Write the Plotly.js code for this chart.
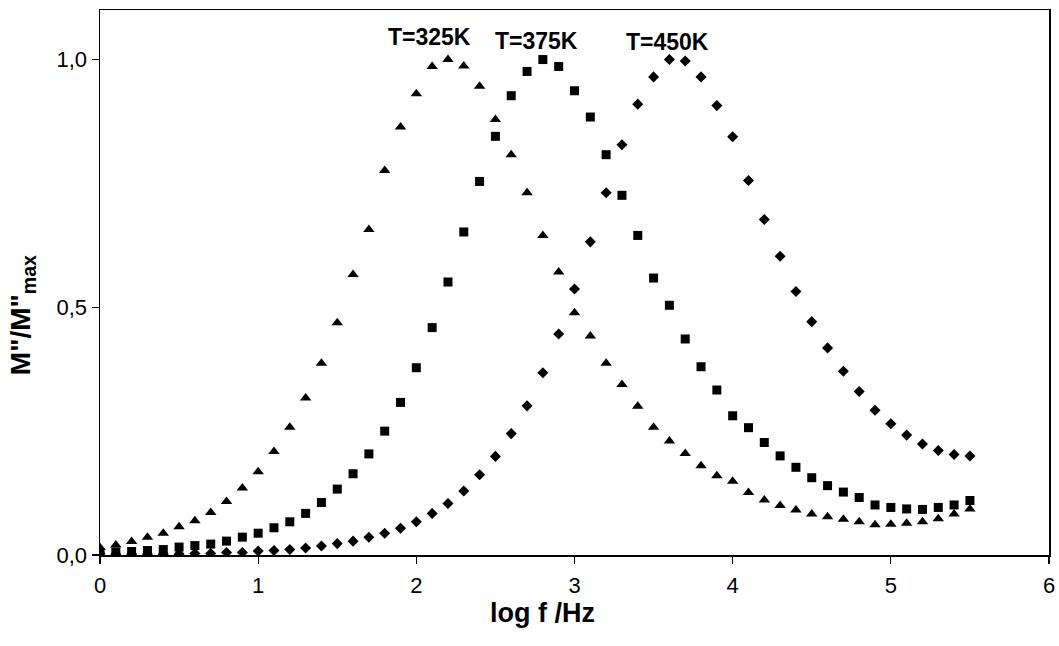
<!DOCTYPE html>
<html>
<head>
<meta charset="utf-8">
<script src="https://cdn.plot.ly/plotly-3.0.1.min.js"></script>
<style>html,body{margin:0;padding:0;background:#fff;}#chart{width:1059px;height:646px;}</style>
</head>
<body>
<div id="chart"></div>
<script>
const logF = [0.0,0.1,0.2,0.3,0.4,0.5,0.6,0.7,0.8,0.9,1.0,1.1,1.2,1.3,1.4,1.5,1.6,1.7,1.8,1.9,
  2.0,2.1,2.2,2.3,2.4,2.5,2.6,2.7,2.8,2.9,3.0,3.1,3.2,3.3,3.4,3.5,3.6,3.7,3.8,3.9,
  4.0,4.1,4.2,4.3,4.4,4.5,4.6,4.7,4.8,4.9,5.0,5.1,5.2,5.3,5.4,5.5];

const m325 = [0.015,0.020,0.027,0.036,0.044,0.057,0.069,0.086,0.108,0.135,
  0.168,0.209,0.258,0.317,0.387,0.469,0.566,0.657,0.776,0.864,
  0.931,0.986,1.000,0.987,0.946,0.879,0.808,0.731,0.645,0.571,
  0.489,0.442,0.387,0.344,0.300,0.258,0.230,0.205,0.180,0.160,
  0.149,0.126,0.111,0.100,0.091,0.083,0.077,0.072,0.067,0.061,
  0.062,0.064,0.067,0.073,0.083,0.093];

const m375 = [0.005,0.006,0.007,0.009,0.011,0.016,0.019,0.022,0.028,0.036,
  0.044,0.055,0.067,0.084,0.106,0.133,0.164,0.204,0.250,0.308,
  0.378,0.459,0.551,0.652,0.754,0.845,0.927,0.976,1.000,0.986,
  0.937,0.884,0.808,0.726,0.645,0.559,0.504,0.436,0.380,0.333,
  0.281,0.257,0.227,0.200,0.177,0.156,0.140,0.127,0.116,0.101,
  0.096,0.093,0.092,0.096,0.101,0.110];

const m450 = [0.003,0.002,0.002,0.002,0.002,0.002,0.003,0.003,0.005,0.005,
  0.008,0.009,0.011,0.014,0.018,0.023,0.028,0.036,0.044,0.054,
  0.067,0.084,0.104,0.129,0.162,0.199,0.245,0.301,0.368,0.446,
  0.537,0.632,0.731,0.828,0.910,0.965,1.000,0.997,0.965,0.907,
  0.844,0.756,0.677,0.603,0.532,0.471,0.418,0.371,0.330,0.292,
  0.265,0.242,0.224,0.211,0.203,0.200];

const seriesLabels = ['T=325K', 'T=375K', 'T=450K'];
const labelX = [2.086, 2.757, 3.585];
const labelY = [1.046, 1.038, 1.036];

const xTicks = [0,1,2,3,4,5,6];
const yTicks = [0, 0.5, 1.0];

const xTitle = '<b>log f /Hz</b>';
const yTitle = '<b>M"/M"<sub>max</sub></b>';

const FONT = 'Liberation Sans, Arial, sans-serif';

const traces = [
  {x: logF, y: m450, mode: 'markers', type: 'scatter', name: seriesLabels[2],
   marker: {symbol: 'diamond', size: 8.5, color: '#000'}},
  {x: logF, y: m375, mode: 'markers', type: 'scatter', name: seriesLabels[1],
   marker: {symbol: 'square', size: 9, color: '#000'}},
  {x: logF, y: m325, mode: 'markers', type: 'scatter', name: seriesLabels[0],
   marker: {symbol: 'triangle-up', size: 10, color: '#000'}}
];

const annotations = seriesLabels.map((t, i) => ({
  x: labelX[i], y: labelY[i], xref: 'x', yref: 'y', text: '<b>' + t + '</b>',
  showarrow: false, font: {family: FONT, size: 23, color: '#000'},
  xanchor: 'center', yanchor: 'middle'
}));
annotations.push({
  x: 0.4668, y: -0.1064, xref: 'paper', yref: 'paper', text: xTitle,
  showarrow: false, font: {family: FONT, size: 27, color: '#000'},
  xanchor: 'center', yanchor: 'middle'
});
annotations.push({
  x: -0.0822, y: 0.44, xref: 'paper', yref: 'paper', text: yTitle,
  showarrow: false, textangle: -90, font: {family: FONT, size: 28, color: '#000'},
  xanchor: 'center', yanchor: 'middle'
});

const layout = {
  width: 1059, height: 646,
  margin: {l: 100, r: 10, t: 10, b: 91},
  paper_bgcolor: '#fff', plot_bgcolor: '#fff',
  showlegend: false,
  separators: ', ',
  font: {family: FONT, size: 22, color: '#000'},
  xaxis: {
    range: [0, 6], tickvals: xTicks, ticktext: xTicks.map(String),
    showgrid: false, zeroline: false,
    showline: true, linecolor: '#000', linewidth: 1.5, mirror: true,
    ticks: 'outside', ticklen: 7, tickwidth: 1.2, tickcolor: '#000',
    ticklabelstandoff: 3,
    tickfont: {family: FONT, size: 22, color: '#000'}
  },
  yaxis: {
    range: [0, 1.1], tickvals: yTicks, tickformat: '.1f',
    showgrid: false, zeroline: false,
    showline: true, linecolor: '#000', linewidth: 1.5, mirror: true,
    ticks: 'outside', ticklen: 7, tickwidth: 1.2, tickcolor: '#000',
    tickfont: {family: FONT, size: 22, color: '#000'}
  },
  annotations: annotations
};

Plotly.newPlot('chart', traces, layout, {displayModeBar: false, staticPlot: true});
</script>
</body>
</html>
